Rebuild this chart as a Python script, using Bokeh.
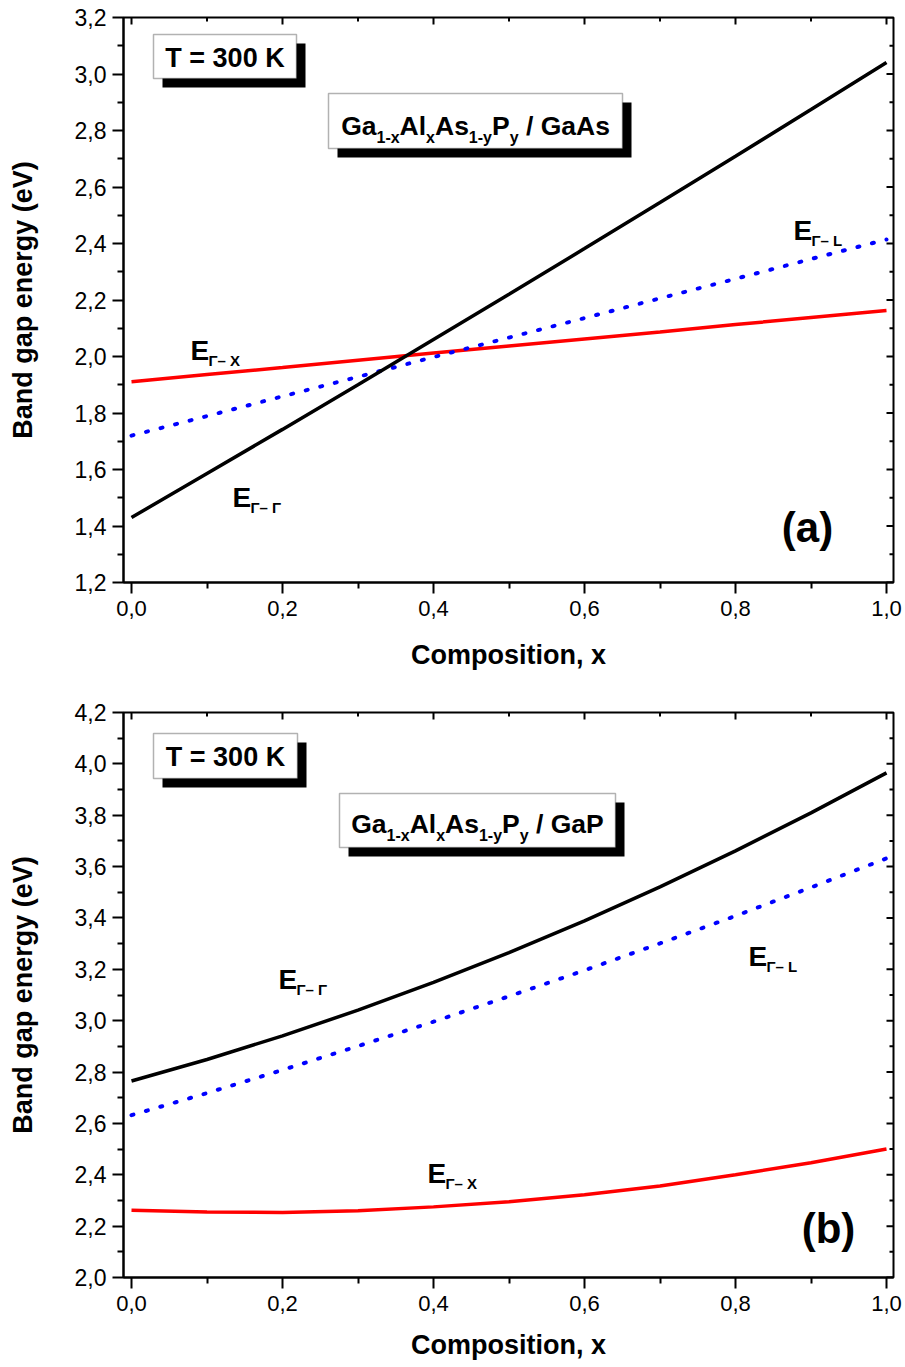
from bokeh.plotting import figure
from bokeh.models import (Range1d, LinearAxis, FixedTicker, CustomJSTickFormatter,
                          BoxAnnotation, Label)
from bokeh.layouts import column
from bokeh.embed import file_html
from bokeh.resources import INLINE

# ---- data -------------------------------------------------------------
composition = [0.0, 0.1, 0.2, 0.3, 0.4, 0.5, 0.6, 0.7, 0.8, 0.9, 1.0]

# Ga(1-x)Al(x)As(1-y)P(y) lattice-matched to GaAs
gaas_gamma_gamma = [1.430, 1.586, 1.742, 1.900, 2.060, 2.220, 2.382, 2.545, 2.709, 2.874, 3.041]
gaas_gamma_x = [1.911, 1.936, 1.961, 1.987, 2.012, 2.037, 2.062, 2.087, 2.113, 2.138, 2.163]
gaas_gamma_l = [1.720, 1.789, 1.859, 1.928, 1.998, 2.067, 2.136, 2.206, 2.275, 2.345, 2.414]

# Ga(1-x)Al(x)As(1-y)P(y) lattice-matched to GaP
gap_gamma_gamma = [2.765, 2.849, 2.941, 3.041, 3.149, 3.265, 3.389, 3.521, 3.661, 3.809, 3.965]
gap_gamma_l = [2.632, 2.718, 2.808, 2.901, 2.996, 3.095, 3.196, 3.301, 3.408, 3.519, 3.632]
gap_gamma_x = [2.262, 2.255, 2.253, 2.260, 2.275, 2.295, 2.322, 2.356, 2.400, 2.447, 2.500]

x_major = [0.0, 0.2, 0.4, 0.6, 0.8, 1.0]
x_minor = [0.1, 0.3, 0.5, 0.7, 0.9]
gaas_y_major = [1.2, 1.4, 1.6, 1.8, 2.0, 2.2, 2.4, 2.6, 2.8, 3.0, 3.2]
gaas_y_minor = [1.3, 1.5, 1.7, 1.9, 2.1, 2.3, 2.5, 2.7, 2.9, 3.1]
gap_y_major = [2.0, 2.2, 2.4, 2.6, 2.8, 3.0, 3.2, 3.4, 3.6, 3.8, 4.0, 4.2]
gap_y_minor = [2.1, 2.3, 2.5, 2.7, 2.9, 3.1, 3.3, 3.5, 3.7, 3.9, 4.1]

# ---- layout constants (page pixels) ----------------------------------
FONT = "Liberation Sans"
PAGE_W = 905
FRAME_L, FRAME_R = 123, 893
FRAME_H = 565
X_START, X_END = -8 / 755, 1 + 7 / 755

# Arial-bold advance widths (em) used to lay out the formula pieces
ADV = {"G": .778, "a": .556, "A": .722, "l": .278, "s": .556, "P": .667,
       " ": .278, "/": .278, "1": .556, "-": .333, "x": .556, "y": .556}


def text_w(s, size):
    return sum(ADV[c] for c in s) * size


class Panel:
    def __init__(self, fig_top, fig_h, frame_top, y_lo, y_hi, y_major, y_minor,
                 xlabel_gap):
        self.fig_top = fig_top
        self.fig_h = fig_h
        self.frame_top = frame_top
        self.y_lo, self.y_hi = y_lo, y_hi
        top_b = frame_top - fig_top
        bot_b = fig_h - top_b - FRAME_H
        p = figure(width=PAGE_W, height=fig_h, output_backend="svg",
                   toolbar_location=None, x_range=Range1d(X_START, X_END),
                   y_range=Range1d(y_lo, y_hi),
                   min_border_left=FRAME_L, min_border_right=PAGE_W - FRAME_R,
                   min_border_top=top_b, min_border_bottom=bot_b,
                   x_axis_location=None, y_axis_location=None)
        p.grid.visible = False
        p.outline_line_color = "black"
        p.outline_line_width = 2
        p.background_fill_color = "white"
        p.border_fill_color = "white"
        fmt = CustomJSTickFormatter(code="return tick.toFixed(1).replace('.', ',');")

        def style(ax):
            ax.axis_line_width = 2
            ax.major_tick_line_width = 2
            ax.minor_tick_line_width = 2
            ax.major_tick_in, ax.major_tick_out = 0, 11
            ax.minor_tick_in, ax.minor_tick_out = 0, 6
            ax.major_label_text_font = FONT
            ax.major_label_text_font_size = "23px"
            ax.major_label_text_color = "black"
            ax.axis_label_text_font = FONT
            ax.axis_label_text_font_size = "27px"
            ax.axis_label_text_font_style = "bold"
            ax.axis_label_text_color = "black"

        bottom = LinearAxis(ticker=FixedTicker(ticks=x_major, minor_ticks=x_minor),
                            formatter=fmt, axis_label="Composition, x")
        style(bottom)
        bottom.major_label_text_font_size = "22px"
        bottom.major_label_standoff = 7
        bottom.axis_label_standoff = xlabel_gap
        left = LinearAxis(ticker=FixedTicker(ticks=y_major, minor_ticks=y_minor),
                          formatter=fmt, axis_label="Band gap energy (eV)")
        style(left)
        left.major_label_standoff = 6
        left.axis_label_standoff = 34
        p.add_layout(bottom, "below")
        p.add_layout(left, "left")
        self.p = p

        # inward ticks on the top and right edges of the frame
        xpp = (X_END - X_START) / (FRAME_R - FRAME_L)
        ypp = (y_hi - y_lo) / FRAME_H
        for ticks, n in ((x_major, 7), (x_minor, 4)):
            p.segment(x0=ticks, x1=ticks, y0=[y_hi] * len(ticks),
                      y1=[y_hi - n * ypp] * len(ticks),
                      line_color="black", line_width=2)
        for ticks, n in ((y_major, 7), (y_minor, 4)):
            p.segment(x0=[X_END] * len(ticks), x1=[X_END - n * xpp] * len(ticks),
                      y0=ticks, y1=ticks, line_color="black", line_width=2)

    def d(self, px, py):
        x = X_START + (px - FRAME_L) / (FRAME_R - FRAME_L) * (X_END - X_START)
        y = self.y_hi - (py - self.frame_top) / FRAME_H * (self.y_hi - self.y_lo)
        return x, y

    def label(self, px, py, text, size, align="left", baseline="alphabetic"):
        x, y = self.d(px, py)
        self.p.add_layout(Label(x=x, y=y, text=text, text_font=FONT,
                                text_font_size=f"{size}px", text_font_style="bold",
                                text_color="black", text_align=align,
                                text_baseline=baseline))

    def shadow_box(self, l, t, r, b, shift=9):
        x0, y0 = self.d(l + shift, t + shift)
        x1, y1 = self.d(r + shift, b + shift)
        self.p.add_layout(BoxAnnotation(left=x0, right=x1, top=y0, bottom=y1,
                                        fill_color="black", fill_alpha=1,
                                        line_color=None))
        x0, y0 = self.d(l, t)
        x1, y1 = self.d(r, b)
        self.p.add_layout(BoxAnnotation(left=x0, right=x1, top=y0, bottom=y1,
                                        fill_color="white", fill_alpha=1,
                                        line_color="black", line_width=1.5))

    def formula(self, cx, base, substrate, big=26.5, small=16, drop=12):
        pieces = [("Ga", False), ("1-x", True), ("Al", False), ("x", True),
                  ("As", False), ("1-y", True), ("P", False), ("y", True),
                  (" / " + substrate, False)]
        total = sum(text_w(t, small if s else big) for t, s in pieces)
        px = cx - total / 2
        for t, s in pieces:
            size = small if s else big
            lead = t[:len(t) - len(t.lstrip())]
            self.label(px + text_w(lead, size), base + (drop if s else 0),
                       t.lstrip(), size)
            px += text_w(t, size)

    def band(self, px, py, sub):
        self.label(px, py, "E", 28)
        self.label(px + 18, py + 10, sub, 15)


def curves(p, gg, gx, gl):
    p.line(composition, gx, line_color="red", line_width=3.5)
    p.line(composition, gl, line_color="blue", line_width=4,
           line_dash="2 13", line_cap="round")
    p.line(composition, gg, line_color="black", line_width=3.5)


# ---- panel (a): on GaAs ----------------------------------------------
pa = Panel(0, 683, 17, 1.2, 3.2, gaas_y_major, gaas_y_minor, 21)
curves(pa.p, gaas_gamma_gamma, gaas_gamma_x, gaas_gamma_l)
pa.shadow_box(153, 34, 296, 78)
pa.label(224.5, 57, "T = 300 K", 27, align="center", baseline="middle")
pa.shadow_box(328, 93, 622, 148)
pa.formula(475, 125, "GaAs")
pa.band(190, 350, "Γ– X")
pa.band(232, 497, "Γ– Γ")
pa.band(793, 230, "Γ– L")
pa.label(807, 527, "(a)", 42, align="center", baseline="middle")

# ---- panel (b): on GaP -----------------------------------------------
pb = Panel(683, 684, 712, 2.0, 4.2, gap_y_major, gap_y_minor, 16)
curves(pb.p, gap_gamma_gamma, gap_gamma_x, gap_gamma_l)
pb.shadow_box(153, 733, 297, 778)
pb.label(225, 756, "T = 300 K", 27, align="center", baseline="middle")
pb.shadow_box(339, 793, 615, 847)
pb.formula(477, 823, "GaP")
pb.band(278, 979, "Γ– Γ")
pb.band(748, 956, "Γ– L")
pb.band(427, 1173, "Γ– X")
pb.label(828, 1228, "(b)", 42, align="center", baseline="middle")

page = column(pa.p, pb.p, spacing=0)
open("out.html", "w").write(file_html(page, INLINE))
